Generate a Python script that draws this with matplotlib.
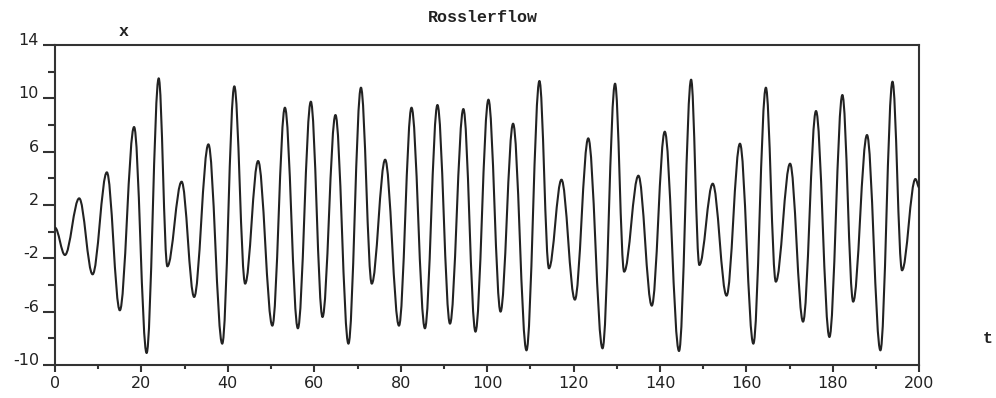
import matplotlib
matplotlib.use("Agg")
import matplotlib.pyplot as plt
from matplotlib.path import Path
from matplotlib.patches import PathPatch
from matplotlib.ticker import FixedLocator

# Successive turning points (time, x) of the Rossler x-component
t_ext = [0.0, 2.3, 5.6, 8.7, 12.0, 15.0, 18.3, 21.2, 24.0, 26.0,
         29.3, 32.2, 35.5, 38.7, 41.5, 44.0, 47.0, 50.3, 53.2, 56.2,
         59.2, 61.9, 64.9, 67.9, 70.8, 73.3, 76.4, 79.6, 82.5, 85.6,
         88.5, 91.4, 94.5, 97.3, 100.3, 103.1, 106.0, 109.1, 112.1, 114.3,
         117.2, 120.3, 123.4, 126.7, 129.6, 131.7, 135.0, 138.1, 141.1, 144.4,
         147.2, 149.1, 152.2, 155.4, 158.5, 161.6, 164.5, 166.8, 170.1, 173.1,
         176.1, 179.2, 182.2, 184.7, 187.9, 191.0, 193.8, 196.0, 199.1, 200.0]
x_ext = [0.3, -1.75, 2.5, -3.2, 4.45, -5.9, 7.85, -9.1, 11.5, -2.6,
         3.75, -4.9, 6.55, -8.4, 10.9, -3.9, 5.3, -7.05, 9.3, -7.25,
         9.75, -6.4, 8.75, -8.4, 10.8, -3.9, 5.4, -7.05, 9.3, -7.25,
         9.5, -6.9, 9.2, -7.5, 9.9, -6.0, 8.1, -8.9, 11.3, -2.75,
         3.9, -5.1, 7.0, -8.75, 11.1, -3.0, 4.2, -5.55, 7.5, -8.95,
         11.4, -2.5, 3.6, -4.8, 6.6, -8.4, 10.8, -3.75, 5.1, -6.75,
         9.05, -7.9, 10.25, -5.25, 7.25, -8.9, 11.25, -2.9, 3.95, 3.3]

t_major = [0, 20, 40, 60, 80, 100, 120, 140, 160, 180, 200]
t_minor = [10, 30, 50, 70, 90, 110, 130, 150, 170, 190]
x_major = [-10, -6, -2, 2, 6, 10, 14]
x_minor = [-8, -4, 0, 4, 8, 12]

title_text = "Rosslerflow"
t_label = "t"
x_label = "x"

W, H = 996, 398
fig = plt.figure(figsize=(W / 100, H / 100), dpi=100)
fig.patch.set_facecolor("white")
ax = fig.add_axes([55 / W, 1 - 365 / H, (919.3 - 55) / W, (365 - 45) / H])

# Smooth trace through the turning points: cubic segments with flat tangents
k = 0.36
verts = [(t_ext[0], x_ext[0])]
codes = [Path.MOVETO]
for t0, x0, t1, x1 in zip(t_ext[:-1], x_ext[:-1], t_ext[1:], x_ext[1:]):
    dt = t1 - t0
    verts += [(t0 + k * dt, x0), (t1 - k * dt, x1), (t1, x1)]
    codes += [Path.CURVE4] * 3
ax.add_patch(PathPatch(Path(verts, codes), fill=False, edgecolor="#222222",
                       lw=1.5, joinstyle="round", zorder=3))

ax.set_xlim(0, 200)
ax.set_ylim(-10, 14)

ax.xaxis.set_major_locator(FixedLocator(t_major))
ax.xaxis.set_minor_locator(FixedLocator(t_minor))
ax.yaxis.set_major_locator(FixedLocator(x_major))
ax.yaxis.set_minor_locator(FixedLocator(x_minor))
ax.set_xticklabels([str(v) for v in t_major])
ax.set_yticklabels([str(v) for v in x_major])

for sp in ax.spines.values():
    sp.set_linewidth(1.5)
    sp.set_color("#333333")

ax.tick_params(axis="x", which="major", direction="out", length=5, width=1.5,
               color="#333333", pad=3, labelsize=11.5, labelcolor="#222222")
ax.tick_params(axis="x", which="minor", direction="out", length=3, width=1.5,
               color="#333333")
ax.tick_params(axis="y", which="major", direction="out", length=8.6, width=1.5,
               color="#333333", pad=3, labelsize=11.5, labelcolor="#222222")
ax.tick_params(axis="y", which="minor", direction="out", length=5, width=1.5,
               color="#333333")
for lbl in ax.get_yticklabels():
    lbl.set_va("baseline")

tfont = dict(family=["Liberation Mono", "DejaVu Sans Mono"], fontweight="bold",
             color="#222222")
fig.text(483 / W, 1 - 22 / H, title_text, ha="center", va="baseline",
         fontsize=12, **tfont)
fig.text(124 / W, 1 - 36 / H, x_label, ha="center", va="baseline",
         fontsize=12, **tfont)
fig.text(988 / W, 1 - 343 / H, t_label, ha="center", va="baseline",
         fontsize=12, **tfont)

fig.savefig("out.png", dpi=100, facecolor="white")
